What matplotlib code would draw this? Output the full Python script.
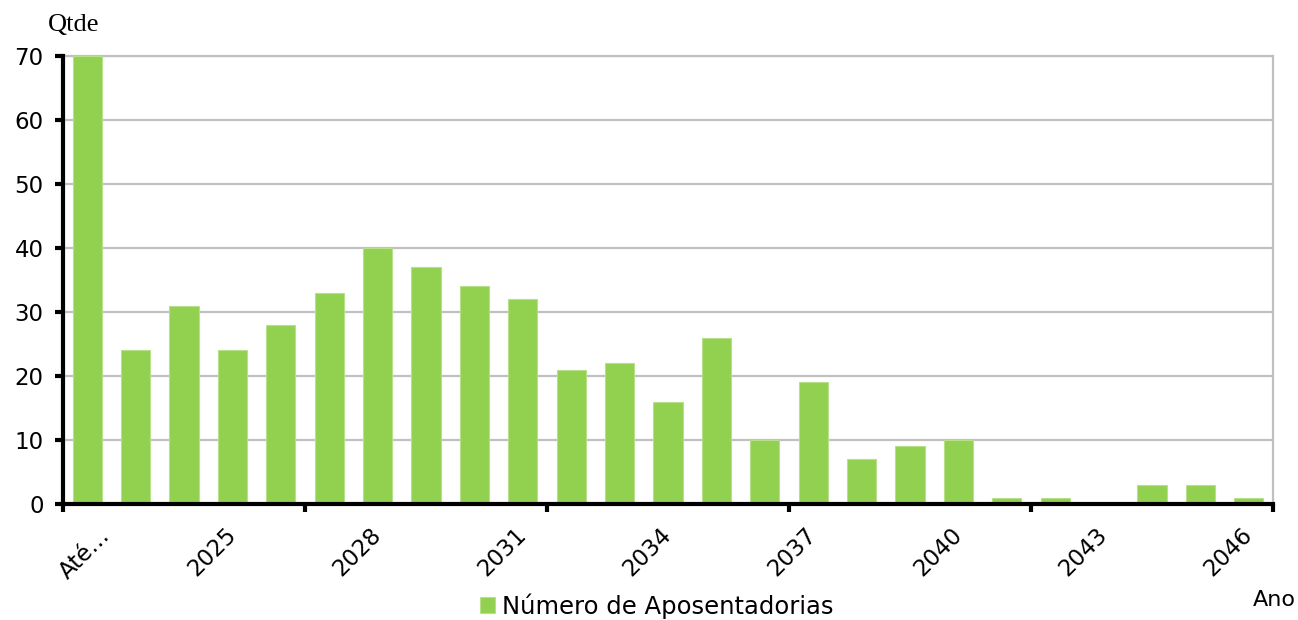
import numpy as np
import matplotlib
matplotlib.use("Agg")
import matplotlib.pyplot as plt
import matplotlib.transforms as mtransforms

# --- dados ---
anos = ["Até…"] + [str(a) for a in range(2023, 2047)]
aposentadorias = [70, 24, 31, 24, 28, 33, 40, 37, 34, 32, 21, 22, 16, 26,
                  10, 19, 7, 9, 10, 1, 1, 0, 3, 3, 1]

verde = "#92D050"
cinza = "#C0C0C0"

fig = plt.figure(figsize=(12.98, 6.2), dpi=100)
ax = fig.add_axes([63 / 1298, 1 - 504 / 620, 1210 / 1298, 448 / 620])

x = np.arange(len(anos))
ax.bar(x, aposentadorias, width=0.6, color=verde, edgecolor="#B8E08A",
       linewidth=0.8, zorder=3, label="Número de Aposentadorias")

ax.set_xlim(-0.5, len(anos) - 0.5)
ax.set_ylim(0, 70)
ax.set_yticks(np.arange(0, 71, 10))
ax.yaxis.grid(True, color=cinza, linewidth=1.6, zorder=0)

# spines
for s in ["top", "right"]:
    ax.spines[s].set_color(cinza)
    ax.spines[s].set_linewidth(1.6)
for s in ["left", "bottom"]:
    ax.spines[s].set_color("black")
    ax.spines[s].set_linewidth(3)
    ax.spines[s].set_zorder(5)

# ticks: marcas a cada 5 categorias, rótulos a cada 3
ax.set_xticks(np.arange(-0.5, len(anos), 5))
ax.set_xticklabels([])
ax.tick_params(axis="x", which="major", length=6, width=3, direction="out")
lab_idx = np.arange(0, len(anos), 3)
ax.set_xticks(lab_idx, minor=True)
ax.set_xticklabels([anos[i] for i in lab_idx], minor=True, rotation=45,
                   ha="right", va="center", rotation_mode="anchor",
                   fontsize=16.5, family="DejaVu Sans")
ax.tick_params(axis="x", which="minor", length=0, pad=20)
ax.tick_params(axis="y", length=6, width=3, direction="out", labelsize=16.5, pad=8)

# deslocar o primeiro rótulo
first = ax.get_xticklabels(minor=True)[0]
first.set_transform(first.get_transform() +
                    mtransforms.ScaledTranslation(19 / 100, 0, fig.dpi_scale_trans))

fig.text(48 / 1298, 1 - 25 / 620, "Qtde", family="Liberation Serif",
         fontsize=19, ha="left", va="center")
fig.text(1296 / 1298, 1 - 600 / 620, "Ano", fontsize=16, ha="right", va="center")

ax.legend(loc="center", bbox_to_anchor=(657 / 1298, 1 - 606 / 620),
          bbox_transform=fig.transFigure, frameon=False, fontsize=17.5,
          handlelength=0.6, handleheight=0.6, handletextpad=0.3)

fig.savefig("out.png", dpi=100)
